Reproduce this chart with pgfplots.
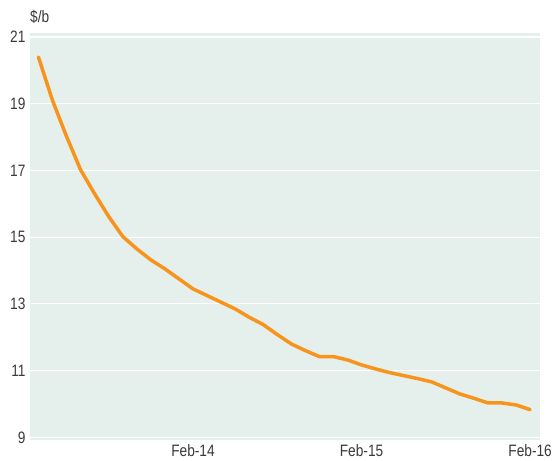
\documentclass[border=0pt]{standalone}
\usepackage{fontspec}
\setmainfont{Liberation Sans}[FakeStretch=0.83]
\usepackage{pgfplots}
\pgfplotsset{compat=1.18}
\definecolor{bgpanel}{RGB}{229,240,236}
\definecolor{lineorange}{RGB}{247,148,29}
\definecolor{labelgray}{RGB}{58,58,58}

\begin{document}
\begin{tikzpicture}
\begin{axis}[
    width=510bp, height=407bp, scale only axis,
    xmin=0.4, xmax=36.7,
    ymin=8.92, ymax=21.12,
    axis background/.style={fill=bgpanel},
    axis line style={draw=none},
    major tick length=0pt,
    ytick={9,11,13,15,17,19,21},
    xtick={12,24,36},
    xticklabels={Feb-14,Feb-15,Feb-16},
    ymajorgrids=true,
    major grid style={white, line width=1.1pt},
    tick label style={font=\fontsize{16.5bp}{18bp}\selectfont, text=labelgray},
    /pgf/number format/assume math mode=true,
    yticklabel style={xshift=-1bp},
    xticklabel style={yshift=-1bp},
    clip=false,
]
\addplot[lineorange, line width=3.5bp, line join=round, line cap=round] coordinates {
(1,20.40) (2,19.10) (3,18.02) (4,17.02) (5,16.30) (6,15.62) (7,15.02)
(8,14.65) (9,14.32) (10,14.05) (11,13.75) (12,13.45) (13,13.25) (14,13.05)
(15,12.85) (16,12.60) (17,12.38) (18,12.08) (19,11.80) (20,11.60) (21,11.42)
(22,11.42) (23,11.32) (24,11.17) (25,11.05) (26,10.94) (27,10.85) (28,10.76)
(29,10.66) (30,10.48) (31,10.30) (32,10.17) (33,10.03) (34,10.03) (35,9.97)
(36,9.83)
};
\node[anchor=south west, inner sep=0pt, text=labelgray,
      font=\fontsize{16.5bp}{18bp}\selectfont]
      at ([yshift=9bp]rel axis cs:0,1) {\$/b};
\coordinate (sw) at (rel axis cs:0,0);
\end{axis}
\pgfresetboundingbox
\path (sw) ++(-30bp,-21bp) rectangle ++(553bp,461bp);
\end{tikzpicture}
\end{document}
